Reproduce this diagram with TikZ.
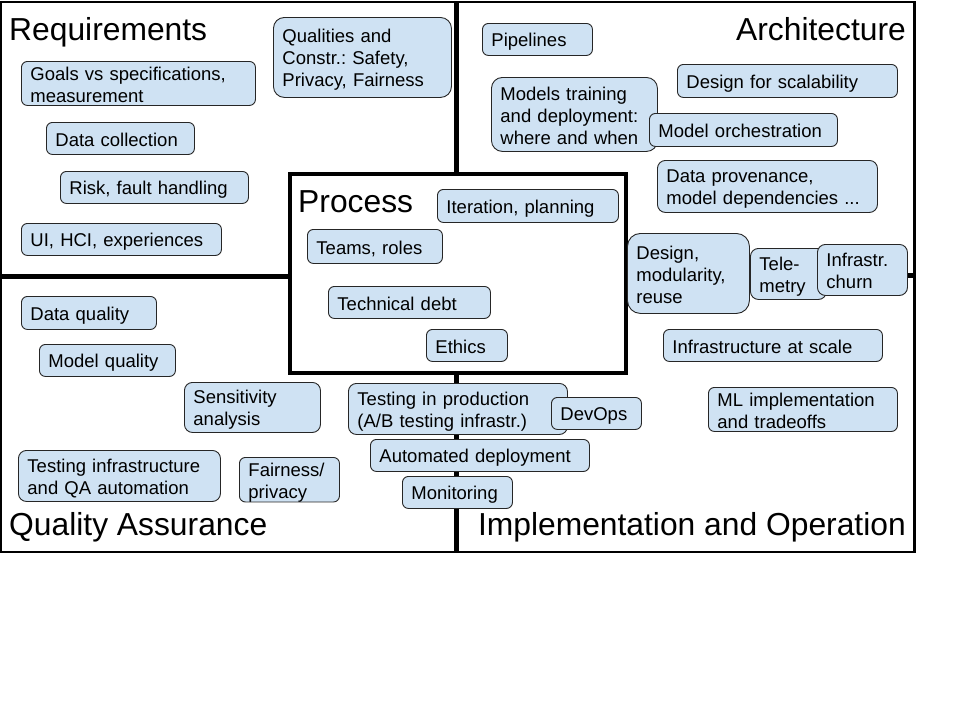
\documentclass[tikz,border=0pt]{standalone}
\usepackage{fontspec}
\setmainfont{Liberation Sans}
\frenchspacing
\definecolor{topicblue}{HTML}{CFE2F3}
\tikzset{
  frame/.style={draw=black, line width=2.8pt},
  area/.style={inner sep=0pt, font=\fontsize{31.8}{36}\selectfont},
  topic/.code 2 args={%
    \pgfmathsetmacro\topicwd{#1-18}%
    \pgfkeysalso{draw=black!85, line width=0.9pt, fill=topicblue,
      rounded corners=6pt, anchor=north west, align=left,
      inner xsep=9pt, inner ysep=0pt,
      font=\fontsize{18.5}{22}\selectfont,
      execute at begin node={\rule{0pt}{18.7pt}},
      execute at end node={\rule[-2.9pt]{0pt}{2.9pt}},
      minimum width=#1pt, minimum height=#2pt,
      text width/.expanded=\topicwd pt}},
}
\begin{document}
\begin{tikzpicture}[x=1pt, y=-1pt]
  \useasboundingbox[fill=white] (0,0) rectangle (960,720);
  % the four areas
  \draw[frame] (1,2) rectangle (455.5,275.5);
  \draw[frame] (458,2) rectangle (914.5,274.5);
  \draw[frame] (1,278) rectangle (455.5,552);
  \draw[frame] (458,277) rectangle (914.5,552);
  \draw[frame, line width=4pt, fill=white] (290,174) rectangle (626,373);

  \node[area, anchor=base west] (req) at (9,40) {Requirements};
  \node[area, anchor=base east] (arch) at (906,40) {Architecture};
  \node[area, anchor=base west] (proc) at (298,212) {Process};
  \node[area, anchor=base west] (qa) at (9,535) {Quality Assurance};
  \node[area, anchor=base east] (impl) at (906,535) {Implementation and Operation};

  % requirements
  \node[topic={234}{44}] (goals) at (21,61) {Goals vs specifications,\\measurement};
  \node[topic={178}{80}, rounded corners=11pt] (qualities) at (273,17) {Qualities and\\Constr.: Safety,\\Privacy, Fairness};
  \node[topic={148}{32}] (collect) at (46,122) {Data collection};
  \node[topic={188}{32}] (risk) at (60,171) {Risk, fault handling};
  \node[topic={200}{32}] (ui) at (21,223) {UI, HCI, experiences};

  % process
  \node[topic={181}{33}] (iter) at (437,189) {Iteration, planning};
  \node[topic={135}{34}] (teams) at (307,229) {Teams, roles};
  \node[topic={162}{32}] (debt) at (328,286) {Technical debt};
  \node[topic={81}{32}] (ethics) at (426,329) {Ethics};

  % architecture
  \node[topic={110}{32}] (pipes) at (482,23) {Pipelines};
  \node[topic={166}{74}, rounded corners=11pt] (training) at (491,77) {Models training\\and deployment:\\where and when};
  \node[topic={220}{33}] (scal) at (677,64) {Design for scalability};
  \node[topic={188}{33}] (orch) at (649,113) {Model orchestration};
  \node[topic={220}{52}, rounded corners=8pt] (prov) at (657,160) {Data provenance,\\model dependencies ...};
  \node[topic={122}{80}, rounded corners=13pt] (modular) at (627,233) {Design,\\modularity,\\reuse};
  \node[topic={76}{51}, rounded corners=8pt] (tele) at (750,248) {Tele-\\metry};
  \node[topic={90}{51}, rounded corners=8pt] (churn) at (817,244) {Infrastr.\\churn};

  % implementation and operation
  \node[topic={219}{32}] (scale) at (663,329) {Infrastructure at scale};
  \node[topic={189}{44}] (mlimpl) at (708,387) {ML implementation\\and tradeoffs};
  \node[topic={219}{51}, rounded corners=8pt] (prodtest) at (348,383) {Testing in production\\(A/B testing infrastr.)};
  \node[topic={90}{32}] (devops) at (551,397) {DevOps};
  \node[topic={219}{32}] (deploy) at (370,439) {Automated deployment};
  \node[topic={110}{32}] (monitor) at (402,476) {Monitoring};

  % quality assurance
  \node[topic={135}{33}] (dataq) at (21,296) {Data quality};
  \node[topic={136}{32}] (modelq) at (39,344) {Model quality};
  \node[topic={136}{50}, rounded corners=8pt] (sens) at (184,382) {Sensitivity\\analysis};
  \node[topic={202}{51}, rounded corners=8pt] (qainfra) at (18,450) {Testing infrastructure\\and QA automation};
  \node[topic={100}{44}] (fair) at (239,457) {Fairness/\\privacy};
\end{tikzpicture}
\end{document}
